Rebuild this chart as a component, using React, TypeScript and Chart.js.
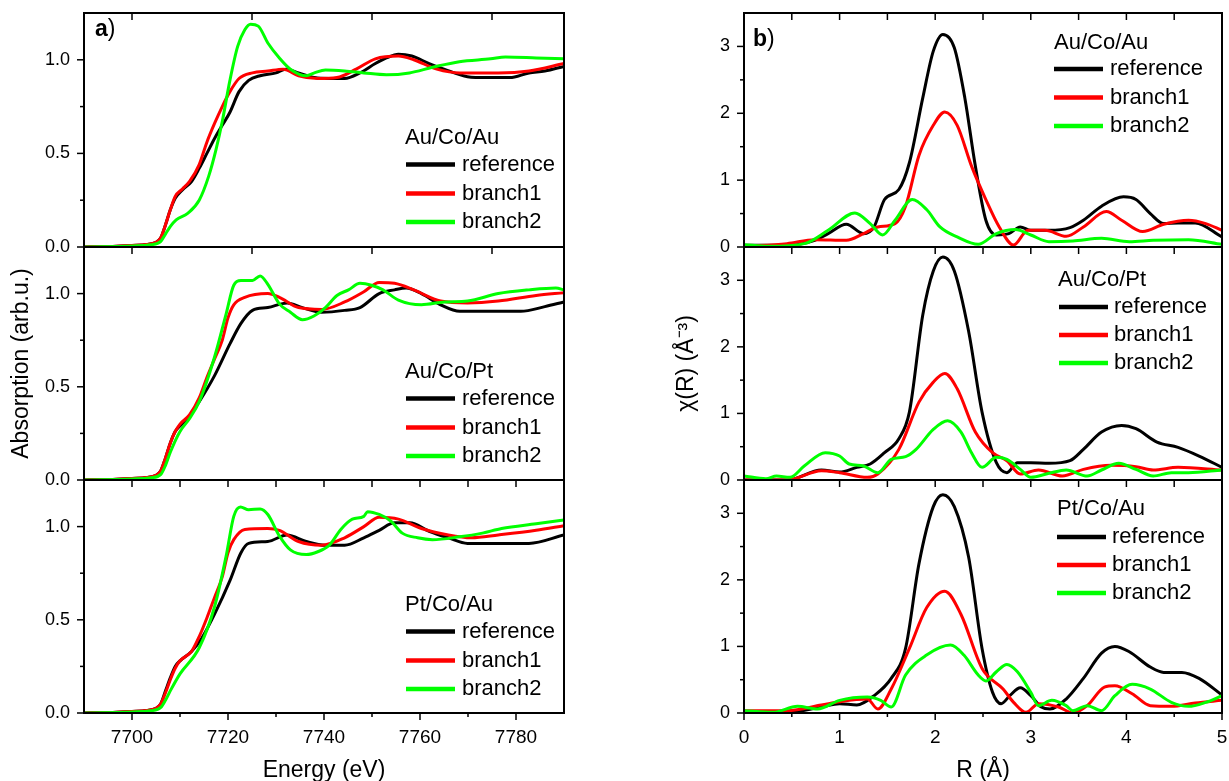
import React, { useEffect, useRef } from "react";
import { Chart, registerables } from "chart.js";

Chart.register(...registerables);

type Pt = [number, number];

// ---------- a) XANES: Energy (eV) vs Absorption (arb.u.) ----------
const energyLabels = [7700, 7720, 7740, 7760, 7780];
const absorptionLabels = [0, 0.5, 1.0];

const xanesAuCoAuRef: Pt[] = [[7690,0],[7696,0.003],[7700,0.008],[7703,0.013],[7705,0.025],[7706,0.05],[7707,0.12],[7708,0.2],[7709,0.26],[7710.5,0.305],[7712.4,0.35],[7714,0.42],[7715.6,0.5],[7717.2,0.58],[7718.8,0.65],[7720.4,0.72],[7722.3,0.83],[7724.3,0.89],[7726.7,0.915],[7730,0.93],[7732,0.95],[7734.7,0.93],[7738,0.905],[7741,0.9],[7744.3,0.9],[7747.5,0.93],[7750.7,0.98],[7753,1.01],[7755.5,1.03],[7758.3,1.02],[7761.9,0.98],[7765,0.95],[7769.9,0.91],[7773.9,0.905],[7778.7,0.905],[7782.7,0.93],[7786,0.94],[7790,0.965]];
const xanesAuCoAuB1: Pt[] = [[7690,0],[7696,0.003],[7700,0.008],[7703,0.013],[7705,0.025],[7706,0.05],[7707,0.12],[7708,0.2],[7709,0.27],[7710.5,0.31],[7712,0.35],[7714,0.44],[7715.6,0.56],[7717.2,0.66],[7718.8,0.75],[7720.4,0.83],[7722.3,0.9],[7725.1,0.93],[7728.3,0.94],[7731.5,0.95],[7734.7,0.915],[7738.7,0.9],[7742.7,0.905],[7746.7,0.95],[7750.7,1.005],[7755.5,1.02],[7758.7,1.0],[7763.5,0.95],[7768.3,0.93],[7776.3,0.93],[7782.7,0.94],[7790,0.98]];
const xanesAuCoAuB2: Pt[] = [[7690,0],[7700,0.006],[7704,0.012],[7706,0.03],[7707,0.07],[7708,0.11],[7709.2,0.145],[7711.6,0.18],[7714,0.25],[7716,0.38],[7717.5,0.52],[7718.8,0.67],[7720.4,0.89],[7722,1.07],[7723.5,1.16],[7724.7,1.19],[7726.3,1.18],[7728.3,1.09],[7730.7,1.01],[7733,0.95],[7736.3,0.915],[7738,0.93],[7740.3,0.945],[7744.3,0.94],[7748.3,0.93],[7753,0.92],[7757.8,0.93],[7762.6,0.96],[7768.2,0.99],[7774.7,1.005],[7777.8,1.015],[7784.2,1.01],[7790,1.005]];

const xanesAuCoPtRef: Pt[] = [[7690,0],[7696,0.003],[7700,0.008],[7703,0.013],[7705,0.025],[7706,0.05],[7707,0.12],[7708,0.2],[7709,0.26],[7710,0.29],[7711.6,0.33],[7714,0.42],[7717.2,0.56],[7720.4,0.73],[7722.7,0.84],[7725.1,0.91],[7728.3,0.925],[7732.3,0.95],[7735.5,0.925],[7739.5,0.9],[7744.3,0.91],[7747.5,0.925],[7751.5,1.0],[7754.7,1.02],[7757.1,1.03],[7760.3,1.0],[7764.3,0.94],[7768.3,0.905],[7774.7,0.905],[7781,0.905],[7786,0.93],[7790,0.955]];
const xanesAuCoPtB1: Pt[] = [[7690,0],[7696,0.003],[7700,0.008],[7703,0.013],[7705,0.025],[7706,0.05],[7707,0.12],[7708,0.2],[7709,0.26],[7710,0.3],[7712,0.35],[7714,0.44],[7715.6,0.55],[7717.2,0.65],[7718.8,0.75],[7720,0.87],[7721.2,0.94],[7723.5,0.98],[7728.3,1.0],[7730.7,0.98],[7734.7,0.925],[7739.5,0.915],[7744.3,0.955],[7748.3,1.01],[7751.5,1.06],[7754.7,1.055],[7758.7,1.02],[7764.3,0.96],[7769.9,0.95],[7776.3,0.96],[7784.2,0.99],[7790,1.005]];
const xanesAuCoPtB2: Pt[] = [[7690,0],[7700,0.006],[7704,0.012],[7706,0.03],[7707,0.08],[7708,0.15],[7710,0.26],[7712,0.33],[7714,0.42],[7717.2,0.66],[7719.6,0.89],[7721.2,1.045],[7722.7,1.07],[7725.1,1.07],[7726.7,1.095],[7728.3,1.05],[7730.7,0.945],[7733,0.9],[7735.5,0.86],[7737.9,0.88],[7740.3,0.925],[7742.7,0.99],[7745.1,1.02],[7747.5,1.055],[7749.9,1.045],[7752.3,1.02],[7755.5,0.965],[7760.3,0.94],[7765.1,0.955],[7769.9,0.96],[7776.3,1.0],[7782.7,1.02],[7788.3,1.03],[7790,1.02]];

const xanesPtCoAuRef: Pt[] = [[7690,0],[7696,0.003],[7700,0.008],[7703,0.013],[7705,0.025],[7706,0.05],[7707,0.12],[7708,0.19],[7709,0.25],[7710,0.28],[7712.4,0.33],[7714.5,0.4],[7717.2,0.53],[7720.4,0.71],[7722.7,0.86],[7724.3,0.91],[7728.3,0.92],[7732.3,0.955],[7736.3,0.92],[7740.3,0.9],[7744.3,0.9],[7748.3,0.94],[7751.5,0.98],[7754.7,1.02],[7757.9,1.02],[7761.9,0.975],[7765.9,0.94],[7769.9,0.91],[7776.3,0.91],[7782.7,0.91],[7790,0.955]];
const xanesPtCoAuB1: Pt[] = [[7690,0],[7696,0.003],[7700,0.008],[7703,0.013],[7705,0.025],[7706,0.05],[7707,0.11],[7708,0.18],[7709,0.24],[7710,0.28],[7712.4,0.33],[7714,0.41],[7715.6,0.51],[7717.2,0.62],[7718.8,0.73],[7720,0.86],[7721.2,0.93],[7723.5,0.985],[7728.3,0.99],[7730.7,0.98],[7734.7,0.92],[7739.5,0.9],[7744.3,0.94],[7748.3,1.0],[7751.5,1.05],[7755.5,1.04],[7760.3,0.99],[7765.9,0.955],[7770.7,0.94],[7776.3,0.955],[7784.2,0.98],[7790,1.005]];
const xanesPtCoAuB2: Pt[] = [[7690,0],[7700,0.006],[7704,0.012],[7706,0.03],[7707,0.07],[7708,0.12],[7710,0.21],[7714,0.35],[7717.2,0.57],[7719.6,0.84],[7721.2,1.055],[7722.6,1.105],[7724.3,1.09],[7726.7,1.095],[7728.3,1.065],[7730.7,0.95],[7733,0.875],[7736.3,0.85],[7738.7,0.865],[7741.1,0.9],[7743.5,0.985],[7745.9,1.04],[7748.3,1.055],[7749.1,1.08],[7751.5,1.065],[7753.9,1.03],[7756.3,0.965],[7759.5,0.94],[7762.6,0.93],[7768.2,0.945],[7773,0.965],[7777,0.99],[7784.2,1.015],[7790,1.035]];

// ---------- b) EXAFS FT: R (Å) vs chi(R) ----------
const rLabels = [0, 1, 2, 3, 4, 5];
const chiLabels = [0, 1, 2, 3];

const ftAuCoAuRef: Pt[] = [[0,0.025],[0.45,0.025],[0.74,0.1],[0.88,0.2],[1.07,0.34],[1.25,0.2],[1.36,0.3],[1.47,0.71],[1.62,0.86],[1.73,1.26],[1.87,2.23],[1.98,2.93],[2.08,3.18],[2.2,2.98],[2.31,2.23],[2.42,1.21],[2.53,0.4],[2.64,0.18],[2.77,0.2],[2.89,0.3],[3.0,0.25],[3.19,0.25],[3.41,0.29],[3.55,0.4],[3.74,0.61],[3.97,0.75],[4.1,0.71],[4.25,0.5],[4.39,0.35],[4.54,0.36],[4.72,0.36],[5.0,0.15]];
const ftAuCoAuB1: Pt[] = [[0,0.01],[0.45,0.05],[0.74,0.11],[1.07,0.1],[1.25,0.2],[1.4,0.3],[1.58,0.35],[1.69,0.61],[1.83,1.37],[1.98,1.82],[2.1,2.02],[2.23,1.82],[2.38,1.21],[2.53,0.71],[2.67,0.3],[2.82,0.03],[2.97,0.25],[3.15,0.25],[3.37,0.16],[3.55,0.3],[3.79,0.53],[3.95,0.4],[4.17,0.23],[4.39,0.34],[4.65,0.4],[4.83,0.35],[5.0,0.25]];
const ftAuCoAuB2: Pt[] = [[0,0.035],[0.26,0.01],[0.63,0.05],[0.88,0.25],[1.16,0.51],[1.32,0.35],[1.45,0.18],[1.58,0.4],[1.76,0.71],[1.91,0.56],[2.05,0.3],[2.23,0.15],[2.45,0.04],[2.64,0.2],[2.84,0.26],[3.0,0.18],[3.19,0.08],[3.44,0.09],[3.74,0.13],[4.03,0.08],[4.28,0.1],[4.65,0.11],[5.0,0.04]];

const ftAuCoPtRef: Pt[] = [[0,0],[0.45,0],[0.81,0.15],[1.0,0.12],[1.18,0.19],[1.32,0.24],[1.47,0.41],[1.62,0.62],[1.73,1.02],[1.87,2.48],[1.98,3.14],[2.08,3.35],[2.2,3.14],[2.35,2.23],[2.49,1.02],[2.64,0.26],[2.75,0.11],[2.86,0.26],[3.0,0.26],[3.19,0.25],[3.41,0.29],[3.55,0.46],[3.74,0.72],[3.95,0.82],[4.1,0.77],[4.32,0.57],[4.54,0.49],[4.76,0.36],[5.0,0.19]];
const ftAuCoPtB1: Pt[] = [[0,0],[0.45,0],[0.81,0.14],[1.0,0.11],[1.29,0.04],[1.4,0.09],[1.62,0.46],[1.83,1.17],[1.98,1.47],[2.1,1.6],[2.23,1.37],[2.42,0.72],[2.6,0.41],[2.75,0.29],[2.89,0.09],[3.08,0.15],[3.33,0.06],[3.55,0.16],[3.84,0.22],[4.1,0.2],[4.28,0.15],[4.54,0.19],[5.0,0.15]];
const ftAuCoPtB2: Pt[] = [[0,0.06],[0.23,0.02],[0.34,0.06],[0.48,0.04],[0.63,0.21],[0.85,0.41],[1.0,0.36],[1.1,0.24],[1.25,0.21],[1.4,0.11],[1.54,0.31],[1.69,0.35],[1.8,0.46],[1.98,0.76],[2.13,0.89],[2.27,0.72],[2.38,0.41],[2.49,0.19],[2.64,0.34],[2.75,0.31],[2.89,0.16],[3.0,0.04],[3.19,0.1],[3.37,0.15],[3.59,0.06],[3.74,0.15],[3.92,0.25],[4.1,0.16],[4.28,0.06],[4.47,0.11],[4.65,0.11],[5.0,0.15]];

const ftPtCoAuRef: Pt[] = [[0,0.02],[0.45,0.01],[0.81,0.09],[1.0,0.14],[1.18,0.12],[1.36,0.26],[1.54,0.52],[1.69,0.97],[1.83,2.24],[1.98,3.1],[2.08,3.28],[2.2,3.1],[2.35,2.34],[2.49,0.97],[2.6,0.31],[2.69,0.14],[2.78,0.26],[2.89,0.38],[3.0,0.26],[3.11,0.09],[3.2,0.06],[3.37,0.21],[3.55,0.52],[3.74,0.9],[3.88,1.0],[4.03,0.92],[4.25,0.69],[4.39,0.61],[4.58,0.61],[4.76,0.52],[5.0,0.27]];
const ftPtCoAuB1: Pt[] = [[0,0.035],[0.45,0.035],[0.81,0.12],[1.0,0.17],[1.29,0.21],[1.4,0.06],[1.54,0.36],[1.73,0.97],[1.91,1.58],[2.1,1.83],[2.27,1.48],[2.49,0.67],[2.71,0.36],[2.82,0.16],[2.95,0.01],[3.08,0.14],[3.29,0.09],[3.44,0.0],[3.59,0.11],[3.77,0.39],[3.88,0.41],[4.06,0.29],[4.25,0.11],[4.47,0.1],[4.72,0.15],[5.0,0.19]];
const ftPtCoAuB2: Pt[] = [[0,0.035],[0.3,0.01],[0.56,0.1],[0.77,0.06],[1.0,0.19],[1.29,0.24],[1.43,0.19],[1.54,0.09],[1.69,0.57],[1.91,0.87],[2.16,1.02],[2.3,0.87],[2.45,0.57],[2.53,0.48],[2.64,0.62],[2.75,0.73],[2.86,0.62],[3.0,0.31],[3.08,0.11],[3.22,0.19],[3.37,0.11],[3.44,0.035],[3.59,0.11],[3.74,0.035],[3.88,0.26],[4.06,0.43],[4.25,0.36],[4.47,0.16],[4.65,0.1],[4.83,0.16],[5.0,0.26]];

const seriesNames = ["reference", "branch1", "branch2"];
const sampleNames = ["Au/Co/Au", "Au/Co/Pt", "Pt/Co/Au"];

// ---------- styling / layout ----------
const FONT = "'Liberation Sans', Arial, Helvetica, sans-serif";
const COLORS = ["#000000", "#ff0000", "#00ff00"];
const W = 1229;
const H = 781;

type Legend = { titleX: number; titleY: number; lineX1: number; lineX2: number; textX: number; rows: number[] };
type Deco = {
  yMajor: number[];
  yMinor: number[];
  xBottom: number[];
  xBottomMinor: number[];
  xTop: number[];
  legendTitle: string;
  legend: Legend;
  panel?: { text: string; x: number; y: number };
};

type Sub = {
  key: string;
  series: Pt[][];
  left: number;
  right: number;
  top: number;
  bottom: number;
  xMin: number;
  xMax: number;
  yMax: number;
  xLabels: number[];
  yLabels: number[];
  yFmt: (v: number) => string;
  showX: boolean;
  xTitle: string;
  yTitle?: string;
  yTitlePad: number;
  scaleLeft: number;
  deco: Deco;
};

const decorPlugin = {
  id: "decor",
  afterDatasetsDraw(chart: any, _args: any, opts: Deco) {
    const { ctx, chartArea: a } = chart;
    const xs = chart.scales.x;
    const ys = chart.scales.y;
    const seg = (x1: number, y1: number, x2: number, y2: number) => {
      ctx.beginPath();
      ctx.moveTo(x1, y1);
      ctx.lineTo(x2, y2);
      ctx.stroke();
    };
    ctx.save();
    ctx.strokeStyle = "#000";
    ctx.lineWidth = 2;
    ctx.strokeRect(a.left, a.top, a.right - a.left, a.bottom - a.top);
    ctx.lineWidth = 1.5;
    opts.yMajor.forEach((v) => { const y = ys.getPixelForValue(v); seg(a.left, y, a.left - 7, y); });
    opts.yMinor.forEach((v) => { const y = ys.getPixelForValue(v); seg(a.left, y, a.left - 4, y); });
    opts.xBottom.forEach((v) => { const x = xs.getPixelForValue(v); seg(x, a.bottom, x, a.bottom + 7); });
    opts.xBottomMinor.forEach((v) => { const x = xs.getPixelForValue(v); seg(x, a.bottom, x, a.bottom + 4); });
    opts.xTop.forEach((v) => { const x = xs.getPixelForValue(v); seg(x, a.top, x, a.top + 7); });

    // legend
    const L = opts.legend;
    ctx.fillStyle = "#000";
    ctx.textBaseline = "middle";
    ctx.textAlign = "left";
    ctx.font = `22px ${FONT}`;
    ctx.fillText(opts.legendTitle, L.titleX, L.titleY);
    chart.data.datasets.forEach((ds: any, i: number) => {
      const y = L.rows[i];
      ctx.strokeStyle = ds.borderColor;
      ctx.lineWidth = 4.5;
      seg(L.lineX1, y, L.lineX2, y);
      ctx.fillStyle = "#000";
      ctx.fillText(ds.label, L.textX, y);
    });

    if (opts.panel) {
      const p = opts.panel;
      ctx.font = `bold 23px ${FONT}`;
      ctx.fillText(p.text, p.x, p.y);
      const w = ctx.measureText(p.text).width;
      ctx.font = `23px ${FONT}`;
      ctx.fillText(")", p.x + w, p.y);
    }
    ctx.restore();
  },
};

const range = (a: number, b: number, s: number) => {
  const out: number[] = [];
  for (let v = a; v <= b + 1e-9; v += s) out.push(Math.round(v * 1000) / 1000);
  return out;
};

const LT = [13, 247, 480];
const LB = [247, 480, 713];

const leftLegend = (t: number): Legend => ({
  titleX: 405, titleY: t + 125, lineX1: 406, lineX2: 455, textX: 462,
  rows: [t + 151.5, t + 180.5, t + 209],
});

const xanesSeries = [
  [xanesAuCoAuRef, xanesAuCoAuB1, xanesAuCoAuB2],
  [xanesAuCoPtRef, xanesAuCoPtB1, xanesAuCoPtB2],
  [xanesPtCoAuRef, xanesPtCoAuB1, xanesPtCoAuB2],
];
const ftSeries = [
  [ftAuCoAuRef, ftAuCoAuB1, ftAuCoAuB2],
  [ftAuCoPtRef, ftAuCoPtB1, ftAuCoPtB2],
  [ftPtCoAuRef, ftPtCoAuB1, ftPtCoAuB2],
];

const rightLegends: Legend[] = [
  { titleX: 1054, titleY: 42.5, lineX1: 1054, lineX2: 1103, textX: 1110, rows: [69, 97.5, 126] },
  { titleX: 1058, titleY: 280, lineX1: 1059, lineX2: 1108, textX: 1114, rows: [307, 335, 363] },
  { titleX: 1057, titleY: 509, lineX1: 1057, lineX2: 1106, textX: 1112, rows: [537, 565, 593] },
];

const subs: Sub[] = [0, 1, 2].flatMap((i) => {
  const a: Sub = {
    key: "a" + i,
    series: xanesSeries[i],
    left: 84, right: 564, top: LT[i], bottom: LB[i],
    xMin: 7690, xMax: 7790, yMax: 1.25,
    xLabels: energyLabels, yLabels: absorptionLabels,
    yFmt: (v) => v.toFixed(1),
    showX: i === 2,
    xTitle: "Energy (eV)",
    yTitle: i === 1 ? "Absorption (arb.u.)" : undefined,
    yTitlePad: 10.5,
    scaleLeft: 0,
    deco: {
      yMajor: [0, 0.5, 1.0],
      yMinor: [0.25, 0.75],
      xBottom: i === 0 ? [7700, 7725, 7750, 7775] : i === 1 ? range(7700, 7780, 10) : energyLabels,
      xBottomMinor: i === 2 ? [7710, 7730, 7750, 7770] : [],
      xTop: i === 0 ? [7700, 7725, 7750, 7775] : [],
      legendTitle: sampleNames[i],
      legend: leftLegend(LT[i]),
      panel: i === 0 ? { text: "a", x: 95, y: 30 } : undefined,
    },
  };
  const b: Sub = {
    key: "b" + i,
    series: ftSeries[i],
    left: 744, right: 1222, top: LT[i], bottom: LB[i],
    xMin: 0, xMax: 5, yMax: 3.5,
    xLabels: rLabels, yLabels: chiLabels,
    yFmt: (v) => String(v),
    showX: i === 2,
    xTitle: "R (Å)",
    yTitle: i === 1 ? "χ(R) (Å⁻³)" : undefined,
    yTitlePad: 15.5,
    scaleLeft: 660,
    deco: {
      yMajor: [0, 1, 2, 3],
      yMinor: [0.5, 1.5, 2.5],
      xBottom: i === 2 ? rLabels : range(0.5, 4.5, 0.5),
      xBottomMinor: i === 2 ? [0.5, 1.5, 2.5, 3.5, 4.5] : [],
      xTop: i === 0 ? range(0.5, 4.5, 0.5) : [],
      legendTitle: sampleNames[i],
      legend: rightLegends[i],
      panel: i === 0 ? { text: "b", x: 753, y: 40 } : undefined,
    },
  };
  return [a, b];
});

function SubPlot({ s }: { s: Sub }) {
  const ref = useRef<HTMLCanvasElement>(null);
  useEffect(() => {
    if (!ref.current) return;
    const datasets = s.series.map((pts, k) => ({
      label: seriesNames[k],
      data: pts.map(([x, y]) => ({ x, y })),
      borderColor: COLORS[k],
      backgroundColor: COLORS[k],
      borderWidth: 3,
      pointRadius: 0,
      fill: false,
      cubicInterpolationMode: "monotone" as const,
      order: 2 - k,
    }));
    const xScale: any = {
      type: "linear",
      min: s.xMin,
      max: s.xMax,
      display: s.showX,
      afterBuildTicks: (sc: any) => { sc.ticks = s.xLabels.map((v) => ({ value: v })); },
      afterFit: (sc: any) => {
        if (s.showX) sc.height = H - s.bottom;
        sc.paddingLeft = 0;
        sc.paddingRight = 0;
        sc.paddingTop = 0;
        sc.paddingBottom = 0;
      },
      grid: { display: false, drawTicks: false },
      border: { display: false },
      ticks: {
        color: "#000",
        font: { size: 19, family: FONT },
        padding: 13,
        maxRotation: 0,
        autoSkip: false,
        callback: (v: any) => String(v),
      },
      title: {
        display: s.showX,
        text: s.xTitle,
        color: "#000",
        font: { size: 23, family: FONT, lineHeight: 1 },
        padding: { top: 0, bottom: -1 },
      },
    };
    const chart = new Chart(ref.current, {
      type: "line",
      data: { datasets },
      plugins: [decorPlugin],
      options: {
        responsive: false,
        animation: false,
        devicePixelRatio: 1,
        events: [],
        layout: {
          padding: {
            left: s.scaleLeft,
            right: W - s.right,
            top: s.top,
            bottom: s.showX ? 0 : H - s.bottom,
          },
        },
        plugins: {
          legend: { display: false },
          tooltip: { enabled: false },
          decor: s.deco,
        } as any,
        scales: {
          x: xScale,
          y: {
            type: "linear",
            min: 0,
            max: s.yMax,
            afterFit: (sc: any) => {
              sc.width = s.left - s.scaleLeft;
              sc.paddingLeft = 0;
              sc.paddingRight = 0;
              sc.paddingTop = 0;
              sc.paddingBottom = 0;
            },
            afterBuildTicks: (sc: any) => { sc.ticks = s.yLabels.map((v) => ({ value: v })); },
            grid: { display: false, drawTicks: false },
            border: { display: false },
            ticks: {
              color: "#000",
              font: { size: 18, family: FONT },
              padding: 14,
              callback: (v: any) => s.yFmt(Number(v)),
            },
            title: {
              display: !!s.yTitle,
              text: s.yTitle || "",
              color: "#000",
              font: { size: 23, family: FONT, lineHeight: 1 },
              padding: { top: s.yTitlePad, bottom: 0 },
            },
          },
        },
      } as any,
    });
    return () => chart.destroy();
  }, [s]);
  return (
    <canvas
      ref={ref}
      width={W}
      height={H}
      style={{ position: "absolute", left: 0, top: 0, width: W, height: H }}
    />
  );
}

export default function App() {
  return (
    <div
      style={{
        position: "absolute",
        left: 0,
        top: 0,
        width: W,
        height: H,
        background: "#fff",
        overflow: "hidden",
      }}
    >
      {subs.map((s) => (
        <SubPlot key={s.key} s={s} />
      ))}
    </div>
  );
}
